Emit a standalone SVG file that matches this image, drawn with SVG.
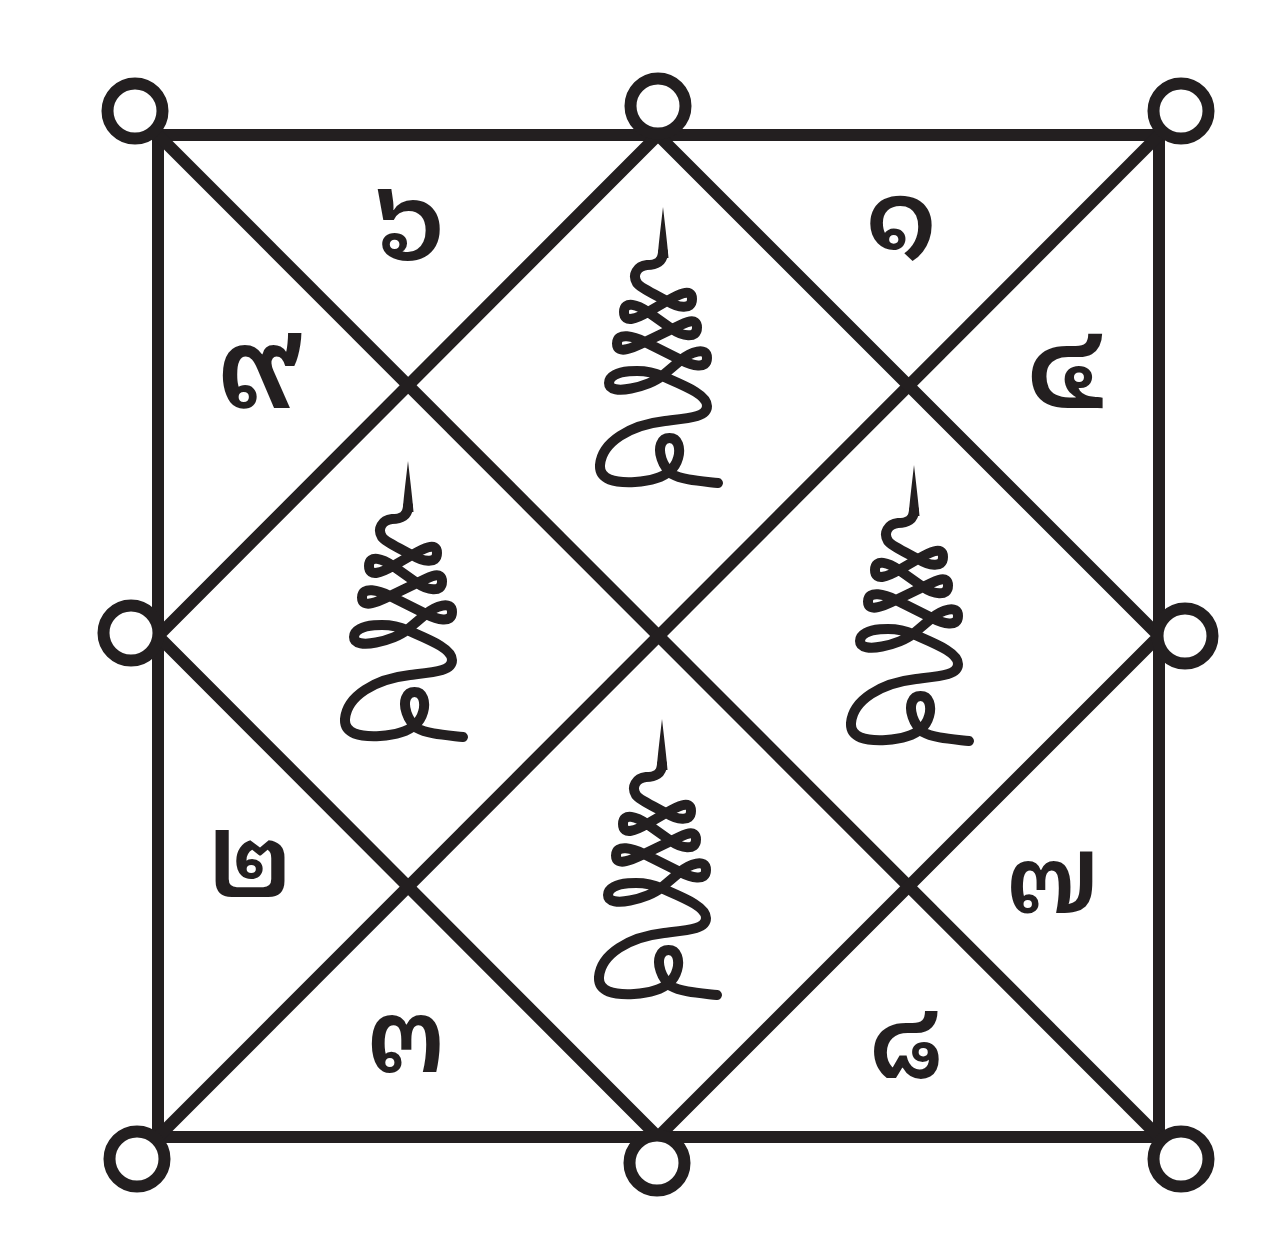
<svg xmlns="http://www.w3.org/2000/svg" xmlns:xlink="http://www.w3.org/1999/xlink" width="1280" height="1258" viewBox="0 0 1280 1258">
<style>
.ln{stroke:#231f20;stroke-width:12;stroke-linecap:butt;fill:none}
.ring{stroke:#231f20;stroke-width:12;fill:#fff}
.st{stroke:#231f20;stroke-width:10;fill:none;stroke-linecap:round;stroke-linejoin:round}
.sp{fill:#231f20}
.num{font-family:"Noto Sans Thai Looped","Noto Serif Thai","Norasi","Kinnari","Garuda","Loma","Noto Sans Thai","Noto Sans","DejaVu Sans",sans-serif;font-size:106px;font-weight:600;fill:#231f20;text-anchor:middle}
</style>
<defs>
<g id="unalom">
<path class="sp" d="M663,207 C665,225 667,240 668.5,258 L657.5,258 C659,240 661,225 663,207 Z"/>
<path class="st" d="M663,252 C663,262 656,265 647,265 C637,266 632,275 637,283 C640,288 658,296 667,301 C677.3,307.2 692,311 692,299 C692,287 677.4,295 667,301 L648,312 C637.6,318 624,324 624,312 C624,300 638.2,305 648,312 L672,329 C681.8,335.9 697,339.5 697,327.5 C697,315.5 682.8,323.8 672,329 L645,342 C634.2,347.2 617,355.5 617,343.5 C617,331.5 634.3,336.6 645,342 L681,360 C691.7,365.4 707,370 707,358 C707,346 690.2,352.3 681,360 L662,376 C650,386 609,397 609,383 C609,369 645,368 662,376 C682,385 707,394 707,406 C707,417 690,418 665,421 C630,425 602,442 600,465 C599,480 615,483 635,482 C650,481 662,478 670,471 C678,464 681,452 678,444 C675,436 664,436 661,444 C658,452 662,466 672,474 C682,480 700,481 718,483"/>
</g>
</defs>
<rect width="1280" height="1258" fill="#fff"/>
<g id="connectors">
<rect class="ln" x="158" y="135" width="1001" height="1002"/>
<line class="ln" x1="158" y1="135" x2="1159" y2="1137"/>
<line class="ln" x1="1159" y1="135" x2="158" y2="1137"/>
<polygon class="ln" points="658,135 1159,636 658,1137 158,636"/>
</g>
<g id="ring-tl"><circle class="ring" cx="135" cy="111" r="27.5"/></g>
<g id="ring-tm"><circle class="ring" cx="658" cy="106" r="27.5"/></g>
<g id="ring-tr"><circle class="ring" cx="1181" cy="111" r="27.5"/></g>
<g id="ring-ml"><circle class="ring" cx="131" cy="633" r="27.5"/></g>
<g id="ring-mr"><circle class="ring" cx="1185" cy="636" r="27.5"/></g>
<g id="ring-bl"><circle class="ring" cx="137" cy="1159" r="27.5"/></g>
<g id="ring-bm"><circle class="ring" cx="657" cy="1163" r="27.5"/></g>
<g id="ring-br"><circle class="ring" cx="1181" cy="1159" r="27.5"/></g>
<g id="glyph-top"><use xlink:href="#unalom"/></g>
<g id="glyph-left"><use xlink:href="#unalom" x="-255" y="254"/></g>
<g id="glyph-right"><use xlink:href="#unalom" x="251" y="258"/></g>
<g id="glyph-bottom"><use xlink:href="#unalom" x="-1" y="512"/></g>
<g id="numerals">
<text class="num" x="410" y="260" style="font-size:112px">๖</text>
<text class="num" x="901" y="252">๑</text>
<text class="num" x="259" y="408" style="font-size:118px">๙</text>
<text class="num" x="1065" y="408" style="font-size:118px">๔</text>
<text class="num" x="250" y="897">๒</text>
<text class="num" x="1052" y="913" style="font-size:98px">๗</text>
<text class="num" x="406" y="1072">๓</text>
<text class="num" x="906" y="1078">๘</text>
</g>
</svg>
